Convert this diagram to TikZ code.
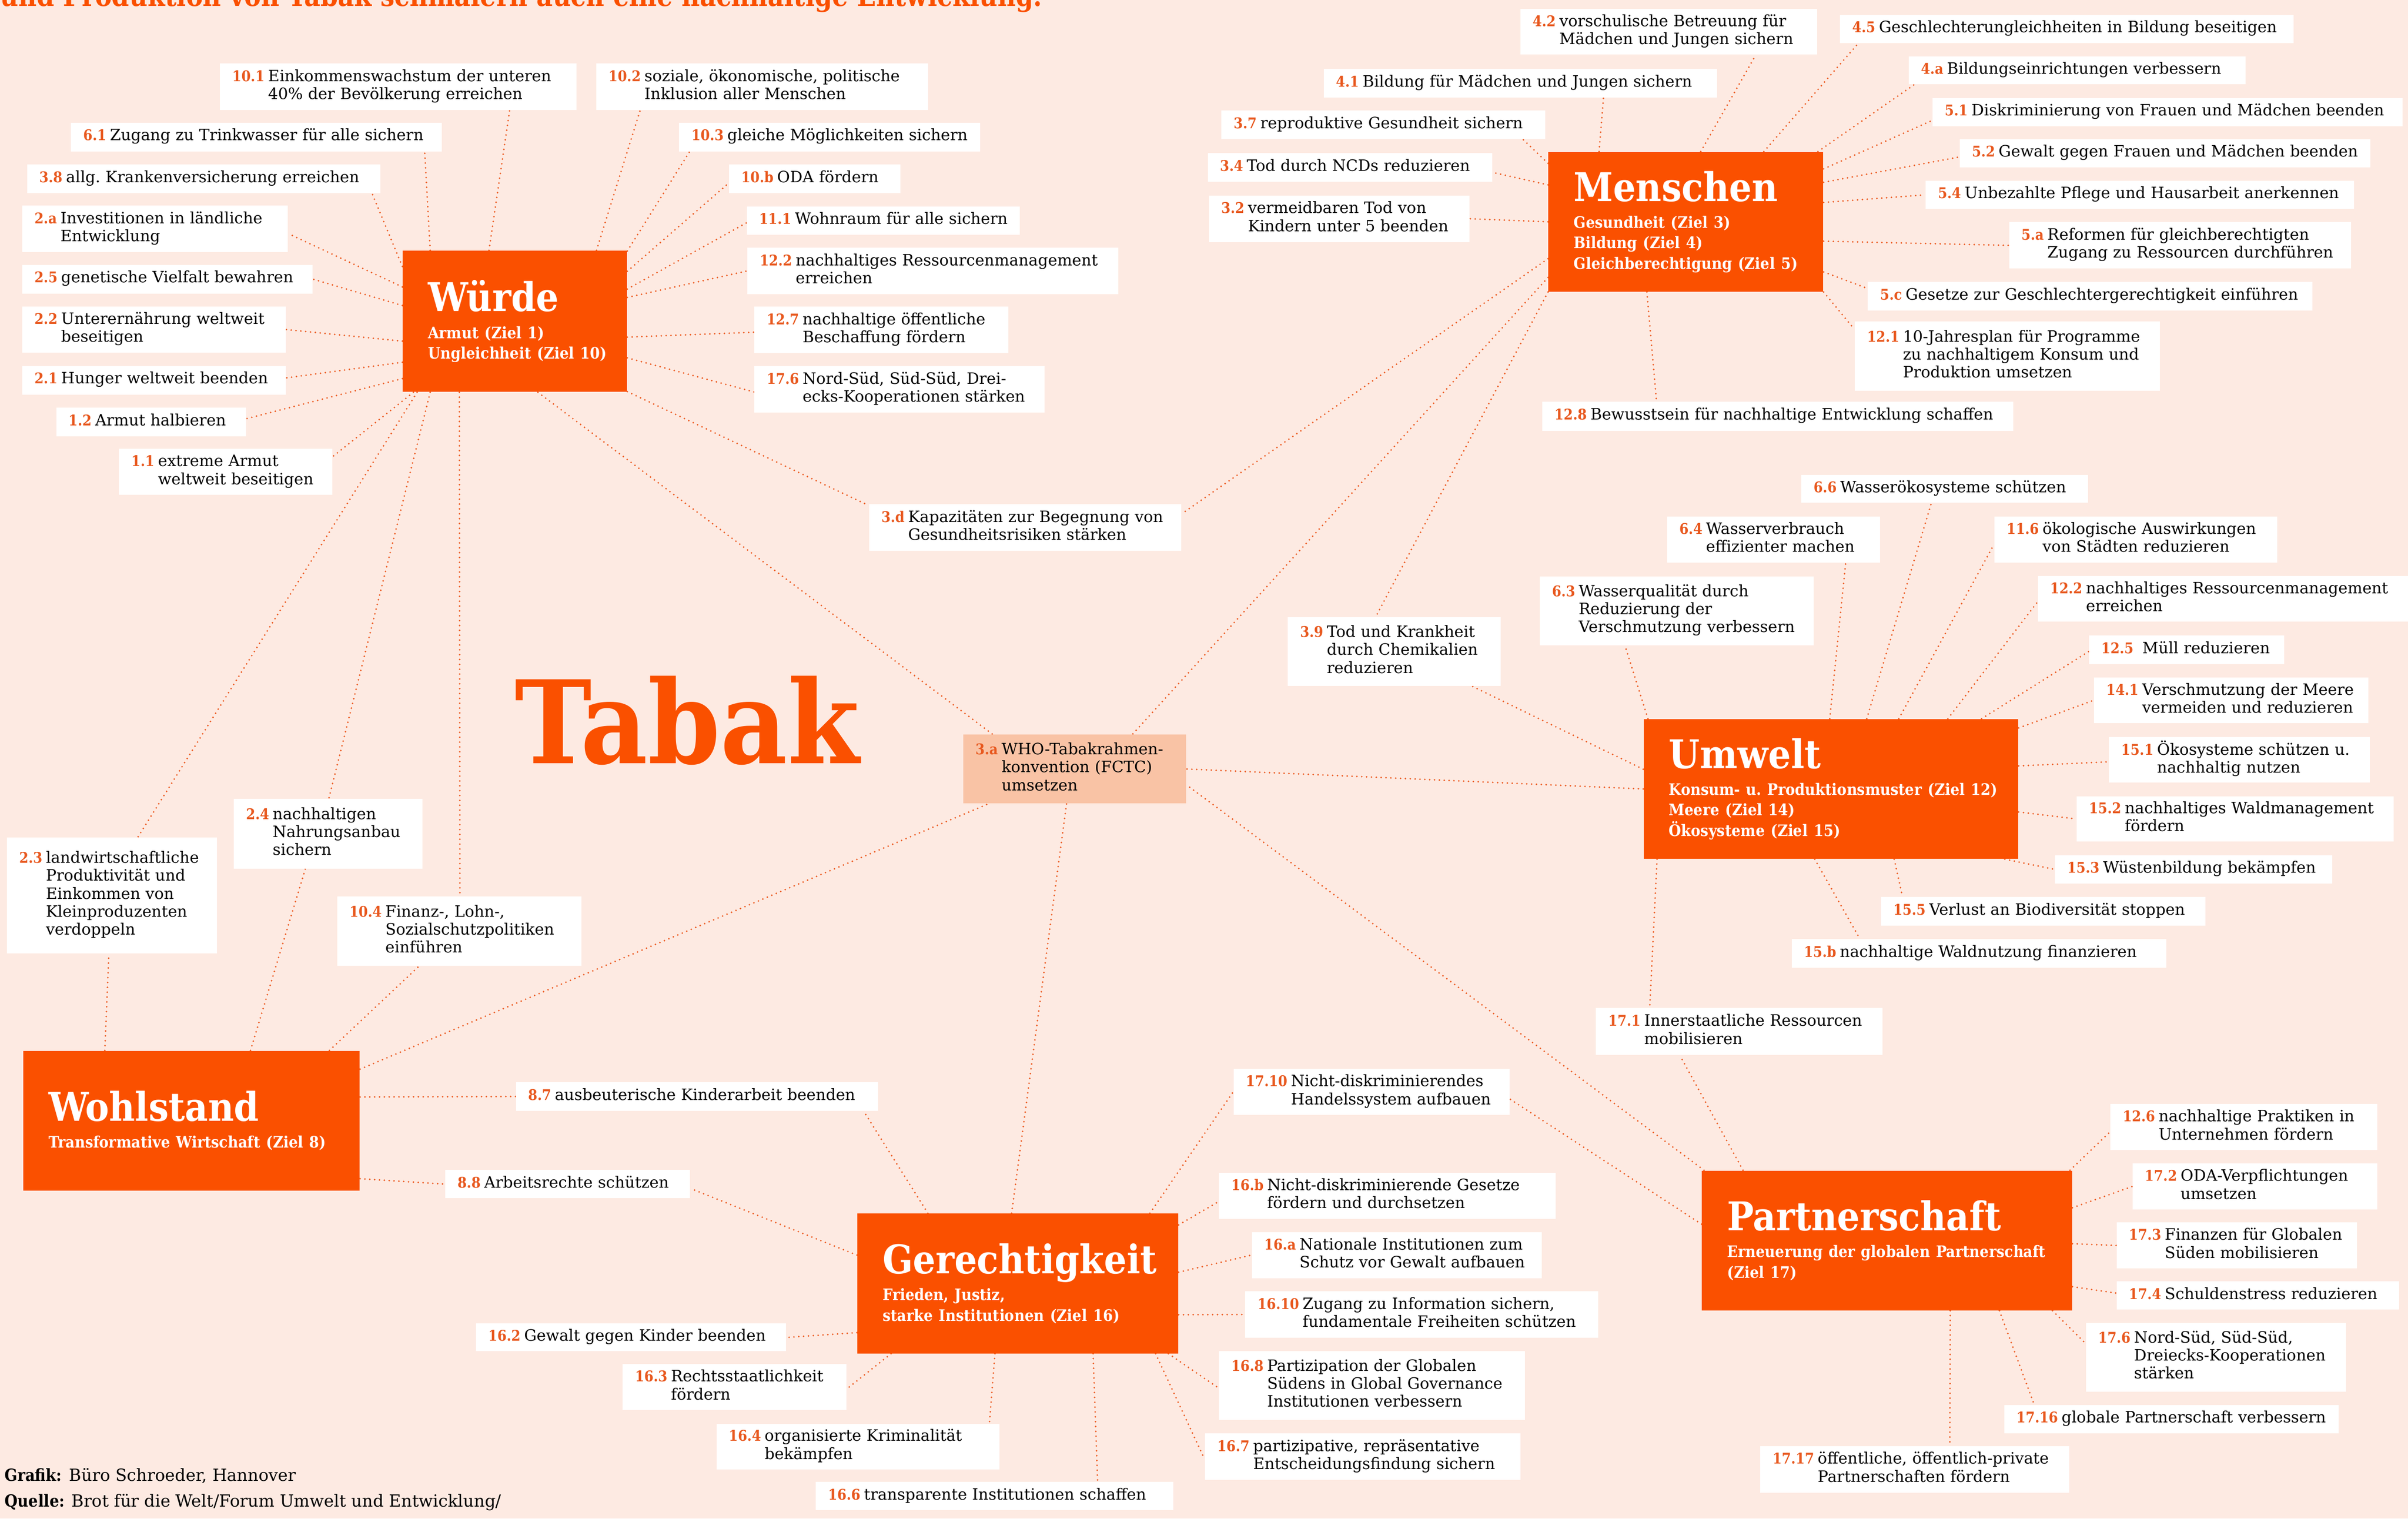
\documentclass[tikz,border=0pt]{standalone}
\usepackage{fontspec}
\setmainfont{DejaVu Serif}
\IfFontExistsTF{DejaVu Serif Condensed}{\newfontfamily\condf{DejaVu Serif Condensed}}{\newfontfamily\condf{DejaVu Serif}}
\usetikzlibrary{calc}
\pgfdeclarelayer{bg}\pgfsetlayers{bg,main}
\definecolor{bgc}{RGB}{253,234,226}
\definecolor{hubc}{RGB}{250,80,0}
\definecolor{numc}{RGB}{232,88,30}
\definecolor{linec}{RGB}{236,92,35}
\definecolor{fctc}{RGB}{249,195,165}
\newcommand\nm[1]{{\condf\bfseries\fontsize{8.2}{9}\selectfont\color{numc}#1}}
\newcommand\titf{\condf\bfseries\fontsize{22}{24}\selectfont}
\newcommand\subf{\condf\bfseries\fontsize{8.8}{11.4}\selectfont}
\def\uu{0.853583}
\tikzset{
 lab/.style={fill=white, anchor=north west, inner xsep=0pt, inner ysep=0pt, font=\fontsize{8.7}{10}\selectfont, text=black},
 hubst/.style={fill=hubc, anchor=north west, inner xsep=0pt, inner ysep=0pt, text=white},
 con/.style={draw=linec, line width=1pt, dash pattern=on 0pt off 2.7pt, line cap=round},
}
\newcommand\lab[8][white]{%
 \pgfmathsetlengthmacro\lw{(#5-#3)*0.03cm}%
 \pgfmathsetlengthmacro\lh{(#6-#4)*0.03cm}%
 \node[lab, fill=#1, text width=\lw, minimum height=\lh] (#2) at (#3,#4) {\frenchspacing\noindent\hspace*{0.24cm}\mbox{\nm{#7}\hspace{2pt}\begin{tabular}[t]{@{}l@{}}#8\end{tabular}}};}
\newcommand\hub[7]{%
 \pgfmathsetlengthmacro\lw{(#4-#2)*0.03cm}%
 \pgfmathsetlengthmacro\lh{(#5-#3)*0.03cm}%
 \node[hubst, text width=\lw, minimum height=\lh] (#1) at (#2,#3) {\frenchspacing\raggedright\leftskip=0.495cm\lineskiplimit=-50pt\noindent{\titf #6\par}\vspace{3.5pt}{\subf\noindent #7\par}};}
\newcommand\lnk[6]{%
 \draw[con] let \p1=(#1.center), \p2=(#4.center),
  \n1={int(round(atan2(-(#3)*\uu-(\y1),(#2)*\uu-(\x1))))},
  \n2={int(round(atan2(-(#6)*\uu-(\y2),(#5)*\uu-(\x2))))}
  in (#1.\n1) -- (#4.\n2);}
\begin{document}
\begin{tikzpicture}[x=0.03cm,y=-0.03cm]
\useasboundingbox (0,0) rectangle (1568,988.8);
\begin{pgfonlayer}{bg}\fill[bgc] (0,0) rectangle (1568,988.8);\end{pgfonlayer}
% header, title, footer
\node[text=hubc, anchor=base west, inner sep=0, font=\condf\bfseries\fontsize{15.5}{17}\selectfont] (hdr) at (0,4) {und Produktion von Tabak schmälern auch eine nachhaltige Entwicklung.};
\node[text=hubc, anchor=base west, inner sep=0, font=\condf\bfseries\fontsize{64}{64}\selectfont] (tabak) at (335,497) {Tabak};
\node[anchor=base west, inner sep=0, font=\fontsize{9.3}{11}\selectfont] (f1) at (2.7,964.4) {{\condf\bfseries Grafik:} Büro Schroeder, Hannover};
\node[anchor=base west, inner sep=0, font=\fontsize{9.3}{11}\selectfont] (f2) at (2.7,981.2) {{\condf\bfseries Quelle:} Brot für die Welt/Forum Umwelt und Entwicklung/};
% hubs
\hub{wuerde}{262}{163}{408}{255}{Würde}{Armut (Ziel 1)\\Ungleichheit (Ziel 10)}
\hub{mensch}{1008}{98.7}{1187}{189.7}{Menschen}{Gesundheit (Ziel 3)\\Bildung (Ziel 4)\\Gleichberechtigung (Ziel 5)}
\hub{umwelt}{1070}{468}{1314}{559}{Umwelt}{Konsum- u. Produktionsmuster (Ziel 12)\\Meere (Ziel 14)\\Ökosysteme (Ziel 15)}
\hub{wohl}{15}{684}{234}{775}{Wohlstand}{Transformative Wirtschaft (Ziel 8)}
\hub{gerecht}{558}{790}{767}{881}{Gerechtigkeit}{Frieden, Justiz,\\starke Institutionen (Ziel 16)}
\hub{partner}{1108}{762}{1349}{853}{Partnerschaft}{Erneuerung der globalen Partnerschaft\\(Ziel 17)}
\lab[fctc]{t3a}{627}{478}{772}{523}{3.a}{WHO-Tabakrahmen-\\konvention (FCTC)\\umsetzen}
% Wuerde labels
\lab{l101}{143}{41}{375}{71.4}{10.1}{Einkommenswachstum der unteren\\40\% der Bevölkerung erreichen}
\lab{l102}{388}{41}{604}{71.4}{10.2}{soziale, ökonomische, politische\\Inklusion aller Menschen}
\lab{l61}{46}{79.6}{287.5}{98.3}{6.1}{Zugang zu Trinkwasser für alle sichern}
\lab{l103}{442}{79.6}{638}{98.3}{10.3}{gleiche Möglichkeiten sichern}
\lab{l38}{17.4}{106.8}{247.6}{125.5}{3.8}{allg. Krankenversicherung erreichen}
\lab{l10b}{474.4}{106.8}{586.2}{125.5}{10.b}{ODA fördern}
\lab{l2a}{14.2}{133.7}{187.2}{164}{2.a}{Investitionen in ländliche\\Entwicklung}
\lab{l111}{486}{134.1}{663.8}{152.6}{11.1}{Wohnraum für alle sichern}
\lab{l25}{14.2}{172.2}{203.3}{190.9}{2.5}{genetische Vielfalt bewahren}
\lab{l122a}{486.5}{161.1}{728}{191.3}{12.2}{nachhaltiges Ressourcenmanagement\\erreichen}
\lab{l22}{14.2}{199.3}{185.8}{229.4}{2.2}{Unterernährung weltweit\\beseitigen}
\lab{l127}{491}{199.5}{656.3}{229.8}{12.7}{nachhaltige öffentliche\\Beschaffung fördern}
\lab{l21}{14.2}{238}{185.8}{256.7}{2.1}{Hunger weltweit beenden}
\lab{l176a}{491}{238.2}{680}{268.5}{17.6}{Nord-Süd, Süd-Süd, Drei-\\ecks-Kooperationen stärken}
\lab{l12}{36.4}{265.2}{160}{283.9}{1.2}{Armut halbieren}
\lab{l11}{77.3}{292}{216}{322}{1.1}{extreme Armut\\weltweit beseitigen}
\lab{l3d}{565.7}{328.2}{769}{358.3}{3.d}{Kapazitäten zur Begegnung von\\Gesundheitsrisiken stärken}
\lab{l24}{152}{519.9}{275}{565.4}{2.4}{nachhaltigen\\Nahrungsanbau\\sichern}
\lab{l23}{4.3}{545}{141}{620.6}{2.3}{landwirtschaftliche\\Produktivität und\\Einkommen von\\Kleinproduzenten\\verdoppeln}
\lab{l104}{219.3}{583.5}{378.4}{628.7}{10.4}{Finanz-, Lohn-,\\Sozialschutzpolitiken\\einführen}
% Wohlstand / Gerechtigkeit labels
\lab{l87}{335.7}{704.5}{571.7}{723}{8.7}{ausbeuterische Kinderarbeit beenden}
\lab{l88}{289.7}{761.6}{449}{780}{8.8}{Arbeitsrechte schützen}
\lab{l162}{309.7}{861.6}{511.7}{879.7}{16.2}{Gewalt gegen Kinder beenden}
\lab{l163}{405.3}{888}{550.8}{918}{16.3}{Rechtsstaatlichkeit\\fördern}
\lab{l164}{466.3}{926.8}{650.6}{956.5}{16.4}{organisierte Kriminalität\\bekämpfen}
\lab{l166}{531}{964.8}{763.7}{983.2}{16.6}{transparente Institutionen schaffen}
\lab{l1710}{803}{695.8}{982.8}{725.7}{17.10}{Nicht-diskriminierendes\\Handelssystem aufbauen}
\lab{l16b}{793.5}{763.3}{1012.8}{793.4}{16.b}{Nicht-diskriminierende Gesetze\\fördern und durchsetzen}
\lab{l16a}{815}{802}{1003.7}{832}{16.a}{Nationale Institutionen zum\\Schutz vor Gewalt aufbauen}
\lab{l1610}{810.6}{840.6}{1040.6}{870.8}{16.10}{Zugang zu Information sichern,\\fundamentale Freiheiten schützen}
\lab{l168}{793.5}{879.4}{992.7}{924.3}{16.8}{Partizipation der Globalen\\Südens in Global Governance\\Institutionen verbessern}
\lab{l167}{784.4}{933}{989.8}{963.4}{16.7}{partizipative, repräsentative\\Entscheidungsfindung sichern}
% Partnerschaft labels
\lab{l171}{1039}{656}{1225.7}{686.8}{17.1}{Innerstaatliche Ressourcen\\mobilisieren}
\lab{l126}{1374}{718.7}{1547.6}{748.7}{12.6}{nachhaltige Praktiken in\\Unternehmen fördern}
\lab{l172}{1388.3}{757.4}{1547.6}{787.4}{17.2}{ODA-Verpflichtungen\\umsetzen}
\lab{l173}{1378}{795.7}{1534.5}{825.8}{17.3}{Finanzen für Globalen\\Süden mobilisieren}
\lab{l174}{1378}{834.2}{1561.8}{852.6}{17.4}{Schuldenstress reduzieren}
\lab{l176b}{1358}{861}{1527.3}{905.9}{17.6}{Nord-Süd, Süd-Süd,\\Dreiecks-Kooperationen\\stärken}
\lab{l1716}{1304.8}{914.7}{1522.6}{933}{17.16}{globale Partnerschaft verbessern}
\lab{l1717}{1146}{941.4}{1347.2}{971.7}{17.17}{öffentliche, öffentlich-private\\Partnerschaften fördern}
% Umwelt labels
\lab{l39}{838.4}{401.6}{976.9}{446.5}{3.9}{Tod und Krankheit\\durch Chemikalien\\reduzieren}
\lab{l63}{1002.4}{375}{1180.8}{420}{6.3}{Wasserqualität durch\\Reduzierung der\\Verschmutzung verbessern}
\lab{l64}{1085.3}{336}{1224.1}{366}{6.4}{Wasserverbrauch\\effizienter machen}
\lab{l66}{1172.7}{309}{1359.4}{327.2}{6.6}{Wasserökosysteme schützen}
\lab{l116}{1298.4}{336}{1482.7}{366}{11.6}{ökologische Auswirkungen\\von Städten reduzieren}
\lab{l122b}{1326.7}{374.7}{1567.6}{404.6}{12.2}{nachhaltiges Ressourcenmanagement\\erreichen}
\lab{l125}{1360}{413.6}{1487.1}{432.3}{12.5}{\ Müll reduzieren}
\lab{l141}{1363.3}{440.8}{1542}{470.7}{14.1}{Verschmutzung der Meere\\vermeiden und reduzieren}
\lab{l151}{1373}{479.5}{1543}{509.2}{15.1}{Ökosysteme schützen u.\\nachhaltig nutzen}
\lab{l152}{1352}{518.2}{1558.5}{547.8}{15.2}{nachhaltiges Waldmanagement\\fördern}
\lab{l153}{1337.8}{556.7}{1518.3}{575}{15.3}{Wüstenbildung bekämpfen}
\lab{l155}{1224.6}{583.8}{1435.9}{602.6}{15.5}{Verlust an Biodiversität stoppen}
\lab{l15b}{1166.4}{611.2}{1410.5}{629.8}{15.b}{nachhaltige Waldnutzung finanzieren}
% Menschen labels
\lab{l42}{989.8}{5.5}{1182.9}{35.4}{4.2}{vorschulische Betreuung für\\Mädchen und Jungen sichern}
\lab{l41}{861.7}{44.6}{1117.9}{63.2}{4.1}{Bildung für Mädchen und Jungen sichern}
\lab{l37}{795.1}{71.8}{1005.8}{90.5}{3.7}{reproduktive Gesundheit sichern}
\lab{l34}{786.2}{99.4}{971.3}{118.1}{3.4}{Tod durch NCDs reduzieren}
\lab{l32}{787}{127}{956.6}{157.4}{3.2}{vermeidbaren Tod von\\Kindern unter 5 beenden}
\lab{l128}{1004}{261.3}{1310.6}{280.2}{12.8}{Bewusstsein für nachhaltige Entwicklung schaffen}
\lab{l45}{1197.9}{9.3}{1493.1}{27.8}{4.5}{Geschlechterungleichheiten in Bildung beseitigen}
\lab{l4a}{1242.6}{36.6}{1462}{54.7}{4.a}{Bildungseinrichtungen verbessern}
\lab{l51}{1258.1}{63.6}{1564.2}{82.1}{5.1}{Diskriminierung von Frauen und Mädchen beenden}
\lab{l52}{1275.8}{90.5}{1543.2}{108.8}{5.2}{Gewalt gegen Frauen und Mädchen beenden}
\lab{l54}{1253.7}{117.5}{1532.6}{135.8}{5.4}{Unbezahlte Pflege und Hausarbeit anerkennen}
\lab{l5a}{1308}{144.4}{1530.7}{174.7}{5.a}{Reformen für gleichberechtigten\\Zugang zu Ressourcen durchführen}
\lab{l5c}{1216}{183.3}{1505.5}{202}{5.c}{Gesetze zur Geschlechtergerechtigkeit einführen}
\lab{l121}{1207.5}{209.2}{1406.1}{254.3}{12.1}{10-Jahresplan für Programme\\zu nachhaltigem Konsum und\\Produktion umsetzen}
% connectors
\begin{pgfonlayer}{bg}
\lnk{wuerde}{318.3}{163}{l101}{328.5}{71.4}
\lnk{wuerde}{280.3}{163}{l61}{268.3}{98.3}
\lnk{wuerde}{262}{173.8}{l38}{231.7}{125.5}
\lnk{wuerde}{262}{186.2}{l2a}{187.2}{152.2}
\lnk{wuerde}{262}{199.5}{l25}{203.3}{182}
\lnk{wuerde}{262}{222.2}{l22}{185.8}{214}
\lnk{wuerde}{262}{236.1}{l21}{185.8}{246.8}
\lnk{wuerde}{262}{246.8}{l12}{160}{272.6}
\lnk{wuerde}{270.2}{255}{l11}{216}{297.2}
\lnk{wuerde}{273}{255}{l23}{89.6}{545}
\lnk{wuerde}{280.5}{255}{l24}{214}{519.9}
\lnk{wuerde}{299.6}{255}{l104}{299.6}{583.5}
\lnk{wuerde}{388.4}{163}{l102}{416}{71.4}
\lnk{wuerde}{408}{164.6}{l103}{447.3}{98.3}
\lnk{wuerde}{408}{177}{l10b}{474.4}{119.3}
\lnk{wuerde}{408}{188}{l111}{486}{145}
\lnk{wuerde}{408}{194.4}{l122a}{486.5}{177}
\lnk{wuerde}{408}{219.7}{l127}{491}{217}
\lnk{wuerde}{408}{233.5}{l176a}{491}{255}
\lnk{wuerde}{408}{255}{l3d}{566}{330}
\lnk{wuerde}{350}{255}{t3a}{646.6}{478}
\lnk{wohl}{68.2}{684}{l23}{70.9}{620.6}
\lnk{wohl}{163.2}{684}{l24}{199.3}{565.4}
\lnk{wohl}{212.7}{684}{l104}{272.9}{628.7}
\lnk{wohl}{234}{696.8}{t3a}{645.2}{523}
\lnk{wohl}{234}{713.6}{l87}{335.7}{713.6}
\lnk{wohl}{234}{767.9}{l88}{289.7}{770.4}
\lnk{gerecht}{604.3}{790}{l87}{564.2}{723}
\lnk{gerecht}{558}{817.1}{l88}{449}{774.2}
\lnk{gerecht}{558}{868.3}{l162}{511.7}{870.8}
\lnk{gerecht}{580.2}{881}{l163}{550.8}{904.9}
\lnk{gerecht}{647.9}{881}{l164}{639.9}{926.8}
\lnk{gerecht}{712.1}{881}{l166}{718.3}{964.8}
\lnk{gerecht}{747.7}{790}{l1710}{803}{711.5}
\lnk{gerecht}{767}{797.2}{l16b}{793.5}{781.5}
\lnk{gerecht}{767}{828.6}{l16a}{815}{817.1}
\lnk{gerecht}{767}{856.2}{l1610}{810.6}{856.2}
\lnk{gerecht}{760}{881}{l168}{793.5}{903.9}
\lnk{gerecht}{751.4}{881}{l167}{784.4}{950.9}
\lnk{gerecht}{658.6}{790}{t3a}{694.7}{523}
\lnk{partner}{1108}{796.2}{l1710}{982.8}{715.7}
\lnk{partner}{1108.6}{762}{t3a}{772}{510.4}
\lnk{partner}{1135.3}{762}{l171}{1095.2}{686.8}
\lnk{partner}{1349}{761.7}{l126}{1374}{737.6}
\lnk{partner}{1349}{786.8}{l172}{1388.3}{773.2}
\lnk{partner}{1349}{810.8}{l173}{1378}{811.4}
\lnk{partner}{1349}{837}{l174}{1378}{842.2}
\lnk{partner}{1337.8}{853}{l176b}{1358}{874.2}
\lnk{partner}{1301.5}{853}{l1716}{1318.4}{914.7}
\lnk{partner}{1269.8}{853}{l1717}{1269.8}{941.4}
\lnk{umwelt}{1070}{501.9}{l39}{958.8}{446.5}
\lnk{umwelt}{1070}{513.2}{t3a}{772}{500.3}
\lnk{umwelt}{1073.8}{468}{l63}{1058.3}{420}
\lnk{umwelt}{1191.2}{468}{l64}{1201.5}{366}
\lnk{umwelt}{1215.3}{468}{l66}{1257.9}{327.2}
\lnk{umwelt}{1236.6}{468}{l116}{1298.4}{354.8}
\lnk{umwelt}{1267.7}{468}{l122b}{1326.7}{392.1}
\lnk{umwelt}{1288.5}{468}{l125}{1360}{423.8}
\lnk{umwelt}{1314}{474.7}{l141}{1363.3}{456.6}
\lnk{umwelt}{1314}{499.6}{l151}{1373}{495.6}
\lnk{umwelt}{1314}{528.4}{l152}{1352}{533.6}
\lnk{umwelt}{1306.7}{559}{l153}{1337.8}{566.8}
\lnk{umwelt}{1232.7}{559}{l155}{1237.4}{583.8}
\lnk{umwelt}{1182.1}{559}{l15b}{1208.5}{611.2}
\lnk{umwelt}{1077.8}{559}{l171}{1073}{656}
\lnk{mensch}{1107.2}{98.7}{l42}{1140.1}{35.4}
\lnk{mensch}{1041.7}{98.7}{l41}{1041.7}{63.2}
\lnk{mensch}{1008}{107}{l37}{988.2}{90.5}
\lnk{mensch}{1008}{120.3}{l34}{971.3}{112.1}
\lnk{mensch}{1008}{144}{l32}{956.6}{141.9}
\lnk{mensch}{1008}{168}{l3d}{769}{335}
\lnk{mensch}{1008}{181}{t3a}{737.5}{478}
\lnk{mensch}{1010}{189.7}{l39}{895.9}{401.6}
\lnk{mensch}{1072.5}{189.7}{l128}{1083.2}{261.3}
\lnk{mensch}{1148.7}{98.7}{l45}{1208}{27.8}
\lnk{mensch}{1184.7}{98.7}{l4a}{1242.6}{54.7}
\lnk{mensch}{1187}{111}{l51}{1258.1}{79.2}
\lnk{mensch}{1187}{118.9}{l52}{1275.8}{101.2}
\lnk{mensch}{1187}{131.6}{l54}{1253.7}{127.5}
\lnk{mensch}{1187}{156.3}{l5a}{1308}{159.4}
\lnk{mensch}{1187}{176.9}{l5c}{1216}{188.2}
\lnk{mensch}{1184.7}{189.7}{l121}{1207.5}{214}
\end{pgfonlayer}
\end{tikzpicture}
\end{document}
